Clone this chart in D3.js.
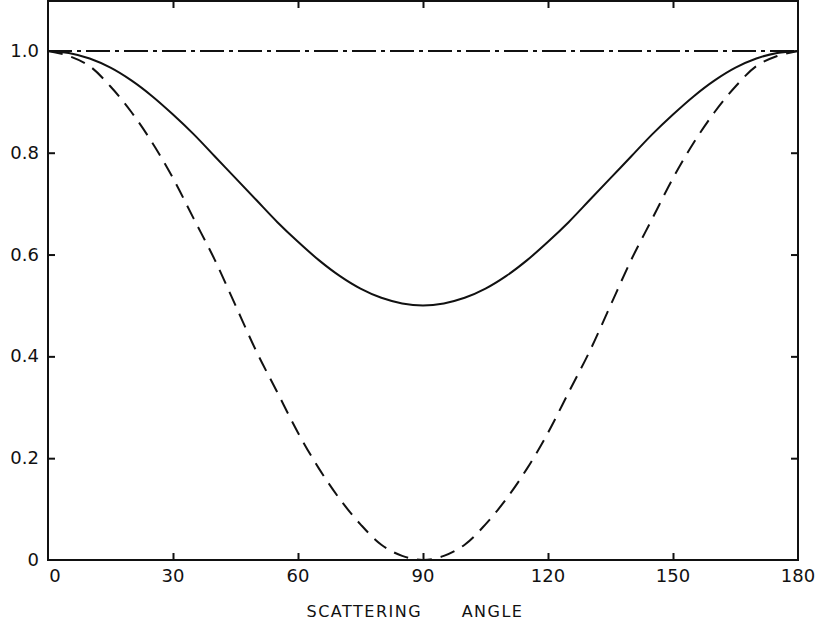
<!DOCTYPE html>
<html>
<head>
<meta charset="utf-8">
<script src="https://cdn.jsdelivr.net/npm/d3@7"></script>
<style>
  body { margin: 0; background: #fff; }
  text { font-family: "DejaVu Sans", sans-serif; fill: #111; }
</style>
</head>
<body>
<div id="chart"></div>
<script>
// Chart size and margins
const CHART_WIDTH = 816;
const CHART_HEIGHT = 626;
const MARGIN = { left: 48, right: 18, top: 1, bottom: 66 };

// Data (angle in degrees)
const angles = [0, 5, 10, 15, 20, 25, 30, 35, 40, 45, 50, 55, 60, 65, 70, 75, 80, 85, 90,
  95, 100, 105, 110, 115, 120, 125, 130, 135, 140, 145, 150, 155, 160, 165, 170, 175, 180];
const solidValues = [1.0, 0.996, 0.985, 0.967, 0.942, 0.911, 0.875, 0.836, 0.793, 0.75, 0.707, 0.664, 0.625, 0.589, 0.558, 0.533, 0.515, 0.504, 0.5,
  0.504, 0.515, 0.533, 0.558, 0.589, 0.625, 0.664, 0.707, 0.75, 0.793, 0.836, 0.875, 0.911, 0.942, 0.967, 0.985, 0.996, 1.0];
const dashedValues = [1.0, 0.99, 0.97, 0.93, 0.88, 0.82, 0.75, 0.67, 0.59, 0.5, 0.41, 0.33, 0.25, 0.18, 0.12, 0.07, 0.03, 0.008, 0.0,
  0.008, 0.03, 0.07, 0.12, 0.18, 0.25, 0.33, 0.41, 0.5, 0.59, 0.67, 0.75, 0.82, 0.88, 0.93, 0.97, 0.99, 1.0];
const dashDotValues = [1.0, 1.0];
const dashDotAngles = [0, 180];
const xTicks = [0, 30, 60, 90, 120, 150, 180];
const yTicks = [0, 0.2, 0.4, 0.6, 0.8, 1.0];
const yTickLabels = ["0", "0.2", "0.4", "0.6", "0.8", "1.0"];

let svg = d3.select("#chart").append("svg")
  .attr("width", CHART_WIDTH)
  .attr("height", CHART_HEIGHT);

let xScale = d3.scaleLinear()
  .domain([0, 180])
  .range([MARGIN.left, CHART_WIDTH - MARGIN.right]);
let yScale = d3.scaleLinear()
  .domain([0, 1.098])
  .range([CHART_HEIGHT - MARGIN.bottom, MARGIN.top]);

// Frame
svg.append("rect")
  .attr("x", xScale(0)).attr("y", yScale(1.098))
  .attr("width", xScale(180) - xScale(0))
  .attr("height", yScale(0) - yScale(1.098))
  .attr("fill", "none").attr("stroke", "#111").attr("stroke-width", 2);

// Axes: ticks point inwards on all four sides
let tickLen = 7;
svg.append("g")
  .attr("transform", "translate(0," + yScale(0) + ")")
  .call(d3.axisTop(xScale).tickValues(xTicks.slice(1, -1)).tickSize(tickLen).tickFormat(""))
  .call(g => g.select(".domain").remove());
svg.append("g")
  .attr("transform", "translate(0," + yScale(1.098) + ")")
  .call(d3.axisBottom(xScale).tickValues(xTicks.slice(1, -1)).tickSize(tickLen).tickFormat(""))
  .call(g => g.select(".domain").remove());
svg.append("g")
  .attr("transform", "translate(" + xScale(0) + ",0)")
  .call(d3.axisRight(yScale).tickValues(yTicks.slice(1, -1)).tickSize(tickLen).tickFormat(""))
  .call(g => g.select(".domain").remove());
svg.append("g")
  .attr("transform", "translate(" + xScale(180) + ",0)")
  .call(d3.axisLeft(yScale).tickValues(yTicks.slice(1, -1)).tickSize(tickLen).tickFormat(""))
  .call(g => g.select(".domain").remove());
svg.selectAll(".tick line").attr("stroke", "#111").attr("stroke-width", 2);

// Tick labels
svg.append("g").selectAll("text")
  .data(xTicks)
  .enter()
  .append("text")
  .attr("x", (d, i) => xScale(d) + (i == 0 ? 7 : 0))
  .attr("y", yScale(0) + 22)
  .attr("text-anchor", "middle")
  .attr("font-size", 18)
  .text(d => d);
svg.append("g").selectAll("text")
  .data(yTicks)
  .enter()
  .append("text")
  .attr("x", xScale(0) - 9)
  .attr("y", d => yScale(d) + 6)
  .attr("text-anchor", "end")
  .attr("font-size", 18)
  .text((d, i) => yTickLabels[i]);

svg.append("text")
  .attr("x", 415)
  .attr("y", 617)
  .attr("text-anchor", "middle")
  .attr("font-size", 16)
  .attr("letter-spacing", 1.5)
  .attr("xml:space", "preserve")
  .text("SCATTERING      ANGLE");

// Curves
function drawLine(xs, values, dash) {
  let line = d3.line()
    .x((d, i) => xScale(xs[i]))
    .y(d => yScale(d))
    .curve(d3.curveCatmullRom);
  svg.append("path")
    .datum(values)
    .attr("d", line)
    .attr("fill", "none")
    .attr("stroke", "#111")
    .attr("stroke-width", 2)
    .attr("stroke-dasharray", dash);
}
drawLine(dashDotAngles, dashDotValues, "24,5,4,5");
drawLine(angles, solidValues, null);
drawLine(angles, dashedValues, "15,9");
</script>
</body>
</html>
